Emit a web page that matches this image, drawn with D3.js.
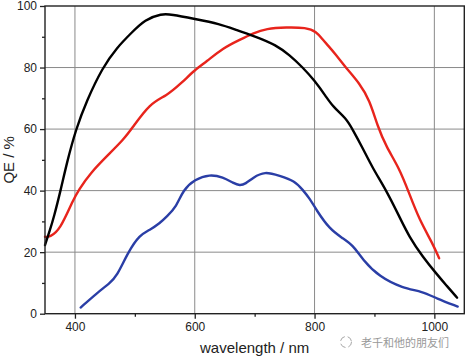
<!DOCTYPE html>
<html><head><meta charset="utf-8">
<script src="https://cdn.jsdelivr.net/npm/d3@7"></script>
<style>body{margin:0;background:#fff}svg{display:block;font-family:"Liberation Sans",Arial,sans-serif}</style>
</head><body><svg id="c" width="465" height="357"></svg>
<script>
const blackNm = [350,358,365,376,387,401.7,419.5,446,470,494.5,516.7,545,560,600,641.7,669.5,703,736,758,780.5,799,819.5,830.5,852.8,864,880.5,897,919.5,941.7,958,980.5,1003,1020,1038];
const blackQE = [22.3,27,31.5,40,49.5,60,69.2,80,86.5,91.3,95.6,97.5,97.3,95.8,94.2,92.2,90.0,87.3,84.1,80,76,70.5,67.3,63.5,59.7,53.8,47.3,40.2,31.5,25.0,18.5,13.1,9.2,5.2];
const redNm = [350,358,375,397,405.5,425,458,480.5,494.5,525,553,578,600,619.5,647,675,697,719.5,752.8,786,803,813.8,822,836,852.8,875,891.7,905.5,919.5,941.7,958,975,997,1008];
const redQE = [25.0,24.9,27.2,37,40,45.6,52.1,56.5,60,68.4,70.8,75,79.2,81.9,86.3,89,91.1,92.7,93.1,93,91.7,89,87.3,84.1,79.8,74.9,69.5,60.8,54.3,47.2,39.1,30.5,22.9,18.0];
const blueNm = [409.5,436,458,469.5,489,508,525,541.7,553,569.5,580.5,600,625,647,665,675,685,697,716.7,741.7,766.7,780.5,791.7,803,825,847,864,880.5,908,947,980.5,1003,1039];
const blueQE = [2.0,6.6,9.9,12,20.1,25.6,27.2,29.4,31.5,34.8,40.2,43.7,45.3,44.4,42.4,41.6,42.2,44.2,46.3,44.8,43.2,40.2,37.5,33.7,27.5,24.5,22.3,17.5,12.0,8.3,7.2,5.0,2.3];
const xMajor = [400,600,800,1000];
const xMinor = [500,700,900];
const yMajor = [0,20,40,60,80,100];
const yMinor = [10,30,50,70,90];
const xLabel = "wavelength / nm";
const yLabel = "QE / %";
const watermark = "老千和他的朋友们";

const svg = d3.select("#c");
const x = d3.scaleLinear().domain([350,1050]).range([45,464.3]);
const y = d3.scaleLinear().domain([0,100]).range([313.7,6]);
const [x0,x1] = x.range(), [y0,y1] = y.range();

// grid
const g = svg.append("g");
g.selectAll(".vg").data(xMajor).join("line")
 .attr("x1",d=>x(d)).attr("x2",d=>x(d)).attr("y1",y0).attr("y2",y1)
 .attr("stroke","#8a8a8a").attr("stroke-width",1);
g.selectAll(".hg").data(yMajor.filter(d=>d>0&&d<100)).join("line")
 .attr("y1",d=>y(d)).attr("y2",d=>y(d)).attr("x1",x0).attr("x2",x1)
 .attr("stroke","#8a8a8a").attr("stroke-width",1);

// curves
const line = d3.line().x(d=>x(d[0])).y(d=>y(d[1])).curve(d3.curveBasis);
const series = [
  {nm:blueNm, qe:blueQE, color:"#2a3ea6"},
  {nm:redNm, qe:redQE, color:"#e8241c"},
  {nm:blackNm, qe:blackQE, color:"#000000"}
];
series.forEach(s=>{
  svg.append("path").attr("d", line(s.nm.map((v,i)=>[v,s.qe[i]])))
   .attr("fill","none").attr("stroke",s.color).attr("stroke-width",2.4)
   .attr("stroke-linejoin","round").attr("stroke-linecap","round");
});

// frame
svg.append("rect").attr("x",x0).attr("y",y1).attr("width",x1-x0).attr("height",y0-y1)
 .attr("fill","none").attr("stroke","#222").attr("stroke-width",1.4);

// axes
svg.append("g").attr("transform",`translate(0,${y0})`)
 .call(d3.axisBottom(x).tickValues(xMajor).tickSize(5).tickPadding(4).tickFormat(d3.format("d")));
svg.append("g").attr("transform",`translate(${x0},0)`)
 .call(d3.axisLeft(y).tickValues(yMajor).tickSize(5).tickPadding(3).tickFormat(d3.format("d")));
svg.append("g").attr("transform",`translate(0,${y0})`)
 .call(d3.axisBottom(x).tickValues(xMinor).tickSize(3).tickFormat(""));
svg.append("g").attr("transform",`translate(${x0},0)`)
 .call(d3.axisLeft(y).tickValues(yMinor).tickSize(3).tickFormat(""));
svg.selectAll(".domain").remove();
svg.selectAll(".tick line").attr("stroke","#222").attr("stroke-width",1.3);
svg.selectAll(".tick text").attr("font-size",12).attr("fill","#222")
 .attr("font-family","'Liberation Sans',Arial,sans-serif");

// labels
svg.append("text").attr("x",(x0+x1)/2).attr("y",353).attr("text-anchor","middle")
 .attr("font-size",15).attr("fill","#222").text(xLabel);
svg.append("text").attr("transform",`translate(13.5,${(y0+y1)/2}) rotate(-90)`)
 .attr("text-anchor","middle").attr("font-size",15).attr("fill","#222").text(yLabel);

// watermark
const wm = svg.append("g").attr("opacity",0.85);
wm.append("circle").attr("cx",346).attr("cy",342).attr("r",5.5).attr("fill","none")
 .attr("stroke","#999").attr("stroke-width",1).attr("stroke-dasharray","6,3");
wm.append("text").attr("x",361).attr("y",347).attr("font-size",11)
 .attr("font-family","'Noto Sans CJK SC',sans-serif").attr("fill","#888")
 .attr("stroke","#fff").attr("stroke-width",2).attr("paint-order","stroke").text(watermark);
</script></body></html>
